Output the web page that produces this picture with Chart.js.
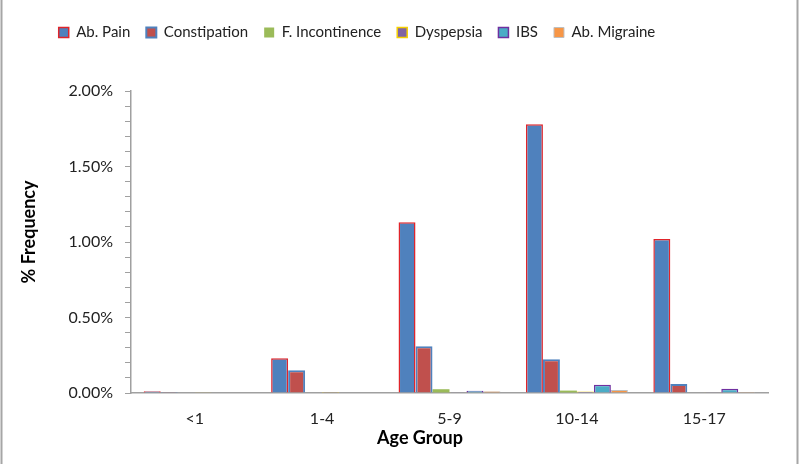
<!DOCTYPE html>
<html><head><meta charset="utf-8">
<script src="https://cdn.jsdelivr.net/npm/chart.js@4.4.1/dist/chart.umd.min.js"></script>
<style>html,body{margin:0;padding:0;background:#fff}#wrap{width:800px;height:464px;position:relative}canvas{display:block}</style>
</head><body><div id="wrap"><canvas id="c" width="800" height="464"></canvas></div>
<script>
// ---- data (values in percent) ----
const categories = ['<1', '1-4', '5-9', '10-14', '15-17'];
const seriesNames = ['Ab. Pain', 'Constipation', 'F. Incontinence', 'Dyspepsia', 'IBS', 'Ab. Migraine'];
const abPain        = [0.012, 0.23, 1.13, 1.78, 1.02];
const constipation  = [0.006, 0.15, 0.31, 0.223, 0.06];
const fIncontinence = [0, 0, 0.025, 0.016, 0];
const dyspepsia     = [0.002, 0.006, 0.005, 0.01, 0.005];
const ibs           = [0, 0, 0.015, 0.055, 0.028];
const abMigraine    = [0, 0, 0.012, 0.02, 0.006];
const yMajorTicks   = [0, 0.5, 1.0, 1.5, 2.0];
const xAxisTitle = 'Age Group';
const yAxisTitle = '% Frequency';

const FONT = 'Lato, "Open Sans", sans-serif';
const LEG_DX = -27, LEG_DY = 9;

const framePlugin = {
  id: 'frame',
  beforeLayout(chart) {
    const lg = chart.legend;
    if (lg && !lg._fixed) {
      const f = lg.fit;
      lg.fit = function () { f.call(this); this.height = 91; };
      lg._fixed = true;
    }
  },
  afterLayout(chart) {
    const lg = chart.legend;
    lg.left += LEG_DX; lg.right += LEG_DX; lg.top += LEG_DY; lg.bottom += LEG_DY;
  },
  afterDraw(chart) {
    const ctx = chart.ctx;
    ctx.save();
    ctx.strokeStyle = '#A6A6A6';
    ctx.lineWidth = 2;
    ctx.beginPath();
    ctx.moveTo(1.5, 0); ctx.lineTo(1.5, 464);
    ctx.moveTo(797.5, 0); ctx.lineTo(797.5, 464);
    ctx.stroke();
    ctx.fillStyle = '#000';
    ctx.font = 'bold 18px ' + FONT;
    ctx.textAlign = 'center';
    ctx.textBaseline = 'middle';
    ctx.fillText(xAxisTitle, 420, 438);
    ctx.translate(29, 232);
    ctx.rotate(-Math.PI / 2);
    ctx.fillText(yAxisTitle, 0, 0);
    ctx.restore();
  }
};

const ds = (label, data, bg, border, bw, dash) => ({
  label, data, backgroundColor: bg, borderColor: border, borderWidth: bw,
  borderDash: dash || [], categoryPercentage: 0.8, barPercentage: 1.0
});

new Chart(document.getElementById('c'), {
  type: 'bar',
  data: {
    labels: categories,
    datasets: [
      ds(seriesNames[0], abPain, '#4F81BD', '#E0242A', 1.5),
      ds(seriesNames[1], constipation, '#C0504D', '#4F81BD', 2, [3, 2]),
      ds(seriesNames[2], fIncontinence, '#9BBB59', '#9BBB59', 0),
      ds(seriesNames[3], dyspepsia, '#8064A2', '#F5D000', 1.5),
      ds(seriesNames[4], ibs, '#4BACC6', '#7030A0', 1.5),
      ds(seriesNames[5], abMigraine, '#F79646', '#BFBFBF', 1)
    ]
  },
  options: {
    responsive: false,
    animation: false,
    devicePixelRatio: 1,
    layout: { padding: { left: 0, right: 32, top: 0, bottom: 0 } },
    plugins: {
      legend: {
        position: 'top',
        labels: { font: { family: FONT, size: 15 }, color: '#222', boxWidth: 10, boxHeight: 10, padding: 16 }
      },
      tooltip: { enabled: false }
    },
    scales: {
      x: {
        grid: { display: true, drawOnChartArea: false, drawTicks: false },
        border: { display: true, color: '#A0A0A0', width: 1.5 },
        ticks: { font: { family: FONT, size: 16 }, color: '#222', padding: 16 },
        afterFit(s) { s.height = 71; }
      },
      y: {
        min: 0, max: 2,
        grid: { display: true, drawOnChartArea: false, drawTicks: true, tickLength: 6, color: '#A0A0A0' },
        border: { display: true, color: '#A0A0A0', width: 1.5 },
        ticks: {
          stepSize: 0.1, autoSkip: false, padding: 12, color: '#222',
          font: { family: FONT, size: 16 },
          callback: (v) => {
            const m = yMajorTicks.find(t => Math.abs(t - v) < 1e-6);
            return m === undefined ? '' : m.toFixed(2) + '%';
          }
        },
        afterFit(s) { s.width = 131; }
      }
    }
  },
  plugins: [framePlugin]
});
</script>
</body></html>
